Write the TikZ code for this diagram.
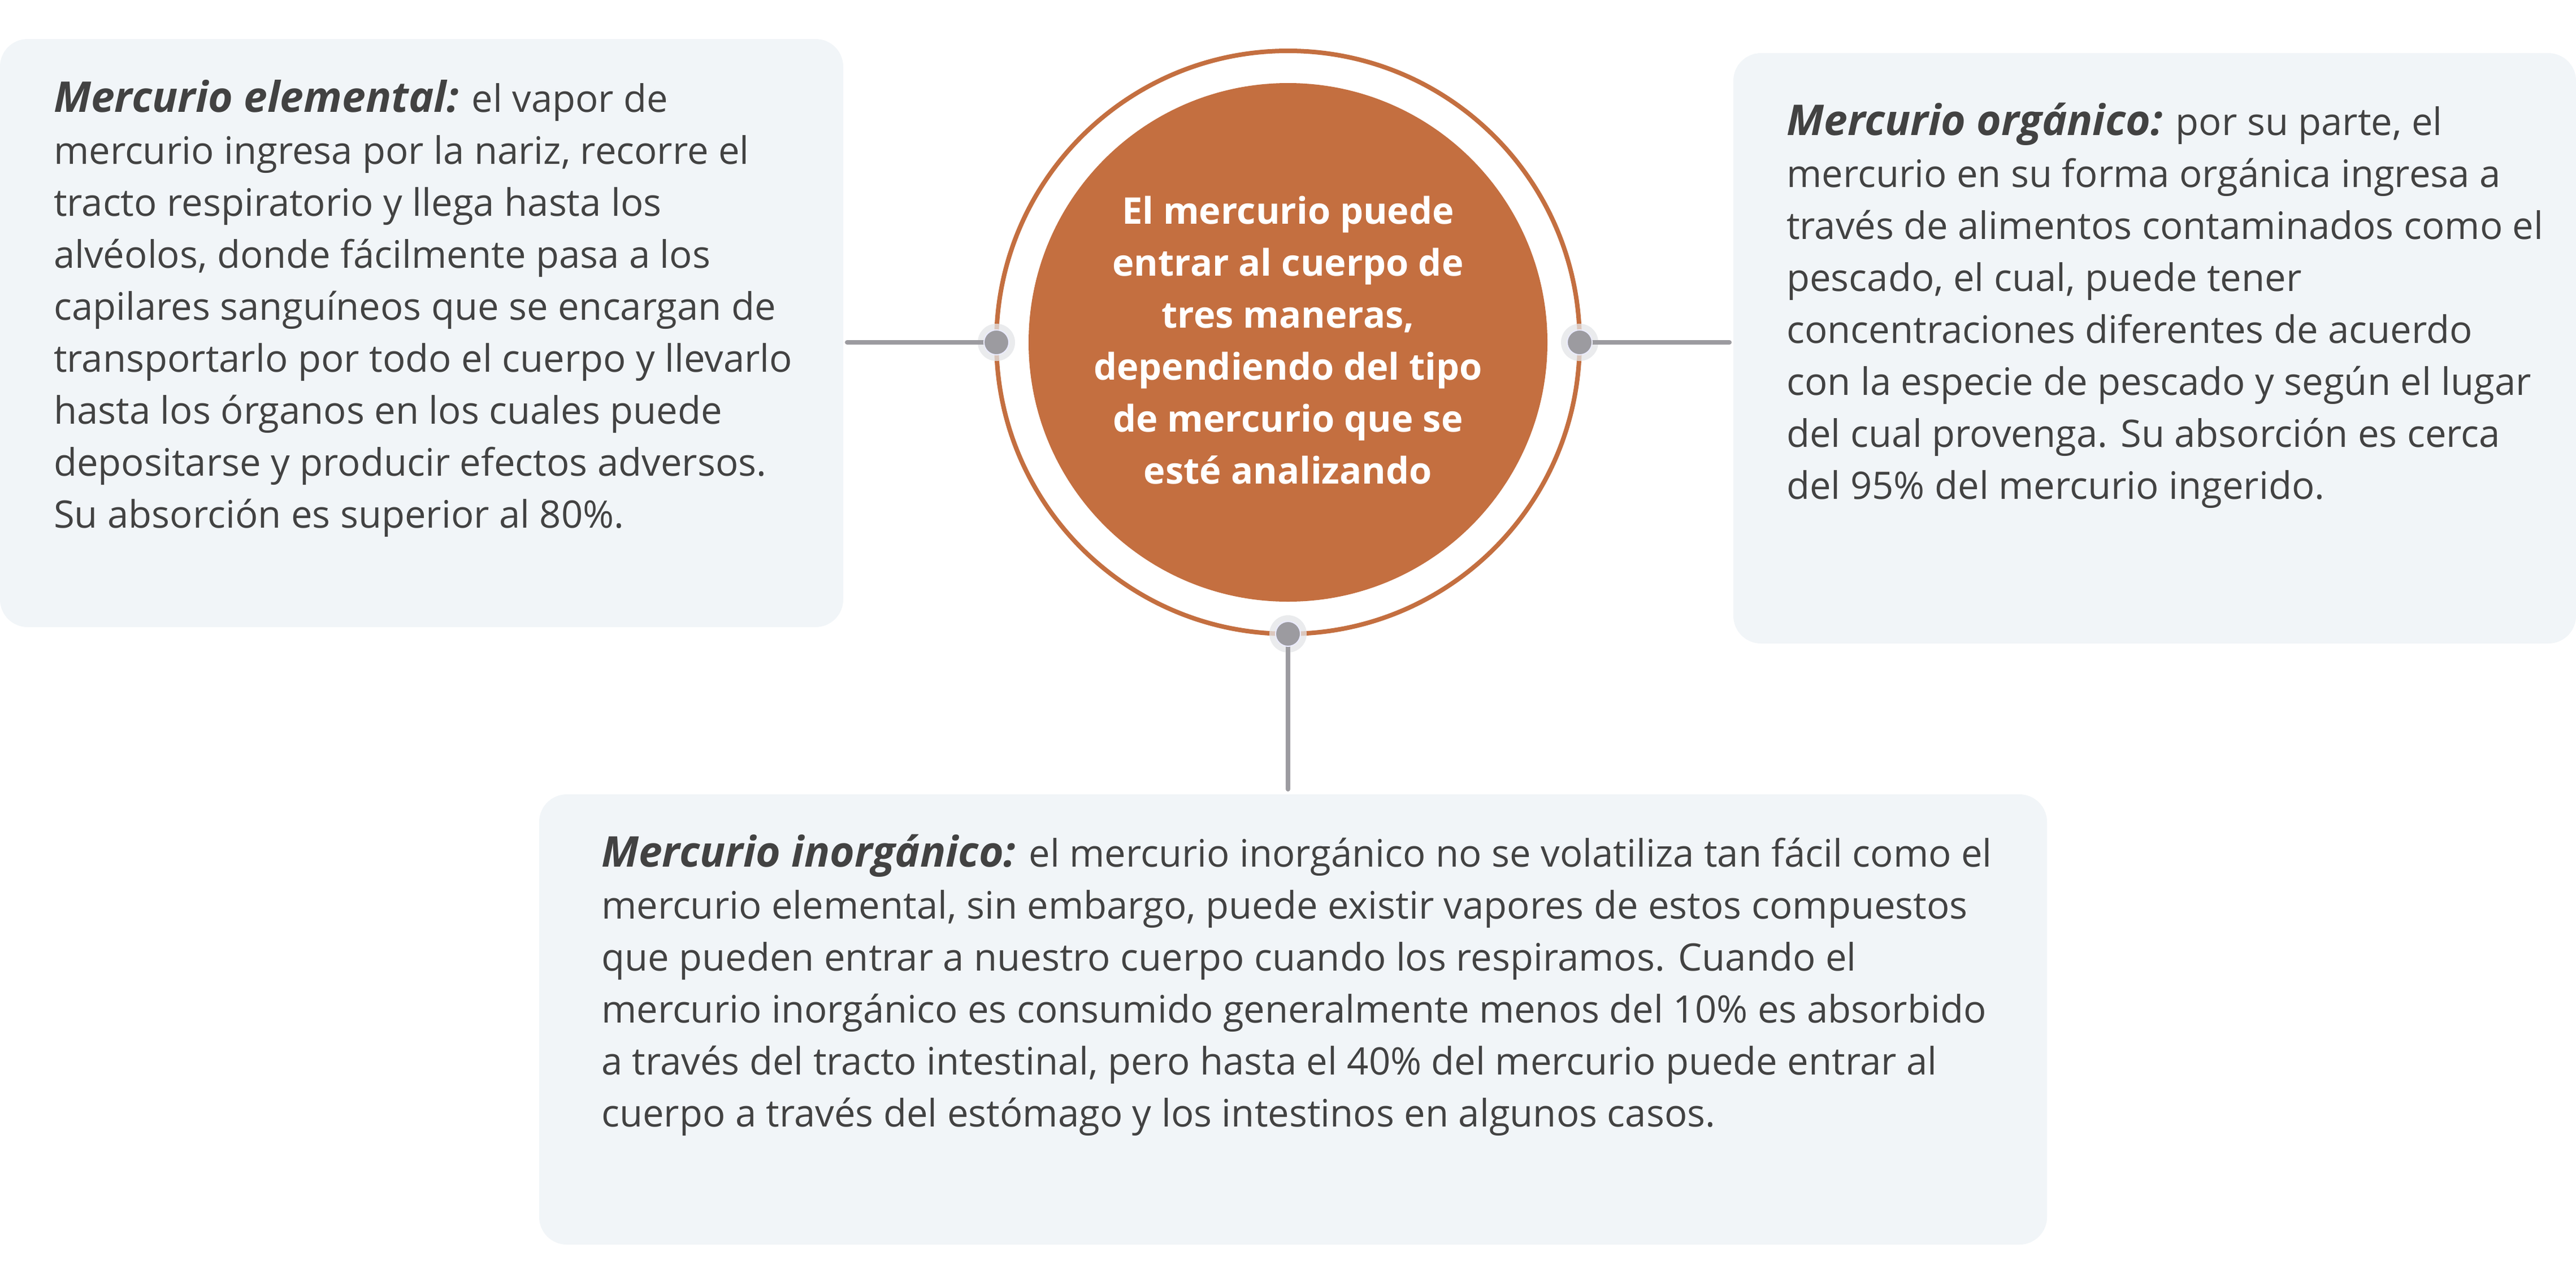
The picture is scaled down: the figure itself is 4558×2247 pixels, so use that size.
\documentclass[tikz,border=0pt]{standalone}
\usepackage{fontspec}
\setmainfont{Open Sans}
\definecolor{txtc}{HTML}{424242}
\definecolor{boxc}{HTML}{F1F5F8}
\definecolor{orng}{HTML}{C46F40}
\definecolor{dotc}{HTML}{9C9BA0}
\definecolor{haloc}{HTML}{E4E5E8}
\tikzset{
  infobox/.style={rectangle, fill=boxc, rounded corners=49pt, anchor=north west, inner sep=0pt, outer sep=0pt},
  bodytxt/.style={anchor=base west, align=left, inner sep=0pt, text=txtc, font={\fontsize{67}{92}\selectfont}},
  centertxt/.style={anchor=base, align=center, inner sep=0pt, text=white, font={\fontsize{65}{92}\selectfont\bfseries}},
  halo/.style={circle, fill=haloc, fill opacity=0.75, minimum size=66pt, inner sep=0pt, outer sep=0pt},
  dotn/.style={circle, fill=dotc, draw=blue!8, line width=2pt, minimum size=44pt, inner sep=0pt, outer sep=0pt},
  conn/.style={draw=dotc, line width=8pt, line cap=round},
}
\newcommand{\ttl}[1]{{\fontsize{75}{92}\selectfont\bfseries\itshape #1}}
\begin{document}
\begin{tikzpicture}[x=1pt,y=-1pt]
\useasboundingbox[fill=white] (0,0) rectangle (4558,2247);
% boxes
\node[infobox, minimum width=1492pt, minimum height=1041pt] (lbox) at (0,69) {};
\node[infobox, minimum width=1491pt, minimum height=1045pt] (rbox) at (3067,94) {};
\node[infobox, minimum width=2668pt, minimum height=797pt] (bbox) at (954,1406) {};
% circle
\node[circle, draw=orng, line width=8pt, minimum size=1032pt, inner sep=0pt, outer sep=0pt] (ring) at (2279,606) {};
\node[circle, fill=orng, minimum size=918pt, inner sep=0pt, outer sep=0pt] (core) at (ring.center) {};
% dots
\node[halo] (hl) at (ring.west) {};
\node[halo] (hr) at (ring.east) {};
\node[halo] (hb) at (ring.south) {};
% connectors
\draw[conn, shorten >=7pt] (hl.center) -- (hl.center -| lbox.east);
\draw[conn, shorten >=7pt] (hr.center) -- (hr.center -| rbox.west);
\draw[conn, shorten >=9pt] (hb.center) -- (hb.center |- bbox.north);
\node[dotn] (dl) at (hl.center) {};
\node[dotn] (dr) at (hr.center) {};
\node[dotn] (db) at (hb.center) {};
% texts (anchor = baseline of last line)
\node[bodytxt] (ltext) at (95,934) {\ttl{Mercurio elemental:} el vapor de\\
mercurio ingresa por la nariz, recorre el\\
tracto respiratorio y llega hasta los\\
alvéolos, donde fácilmente pasa a los\\
capilares sanguíneos que se encargan de\\
transportarlo por todo el cuerpo y llevarlo\\
hasta los órganos en los cuales puede\\
depositarse y producir efectos adversos.\\
Su absorción es superior al 80\%.};
\node[bodytxt] (rtext) at (3161,883) {\ttl{Mercurio orgánico:} por su parte, el\\
mercurio en su forma orgánica ingresa a\\
través de alimentos contaminados como el\\
pescado, el cual, puede tener\\
concentraciones diferentes de acuerdo\\
con la especie de pescado y según el lugar\\
del cual provenga. Su absorción es cerca\\
del 95\% del mercurio ingerido.};
\node[bodytxt] (btext) at (1064,1994) {\ttl{Mercurio inorgánico:} el mercurio inorgánico no se volatiliza tan fácil como el\\
mercurio elemental, sin embargo, puede existir vapores de estos compuestos\\
que pueden entrar a nuestro cuerpo cuando los respiramos. Cuando el\\
mercurio inorgánico es consumido generalmente menos del 10\% es absorbido\\
a través del tracto intestinal, pero hasta el 40\% del mercurio puede entrar al\\
cuerpo a través del estómago y los intestinos en algunos casos.};
\node[centertxt] (ctext) at (2279,856) {El mercurio puede\\
entrar al cuerpo de\\
tres maneras,\\
dependiendo del tipo\\
de mercurio que se\\
esté analizando};
\end{tikzpicture}
\end{document}
